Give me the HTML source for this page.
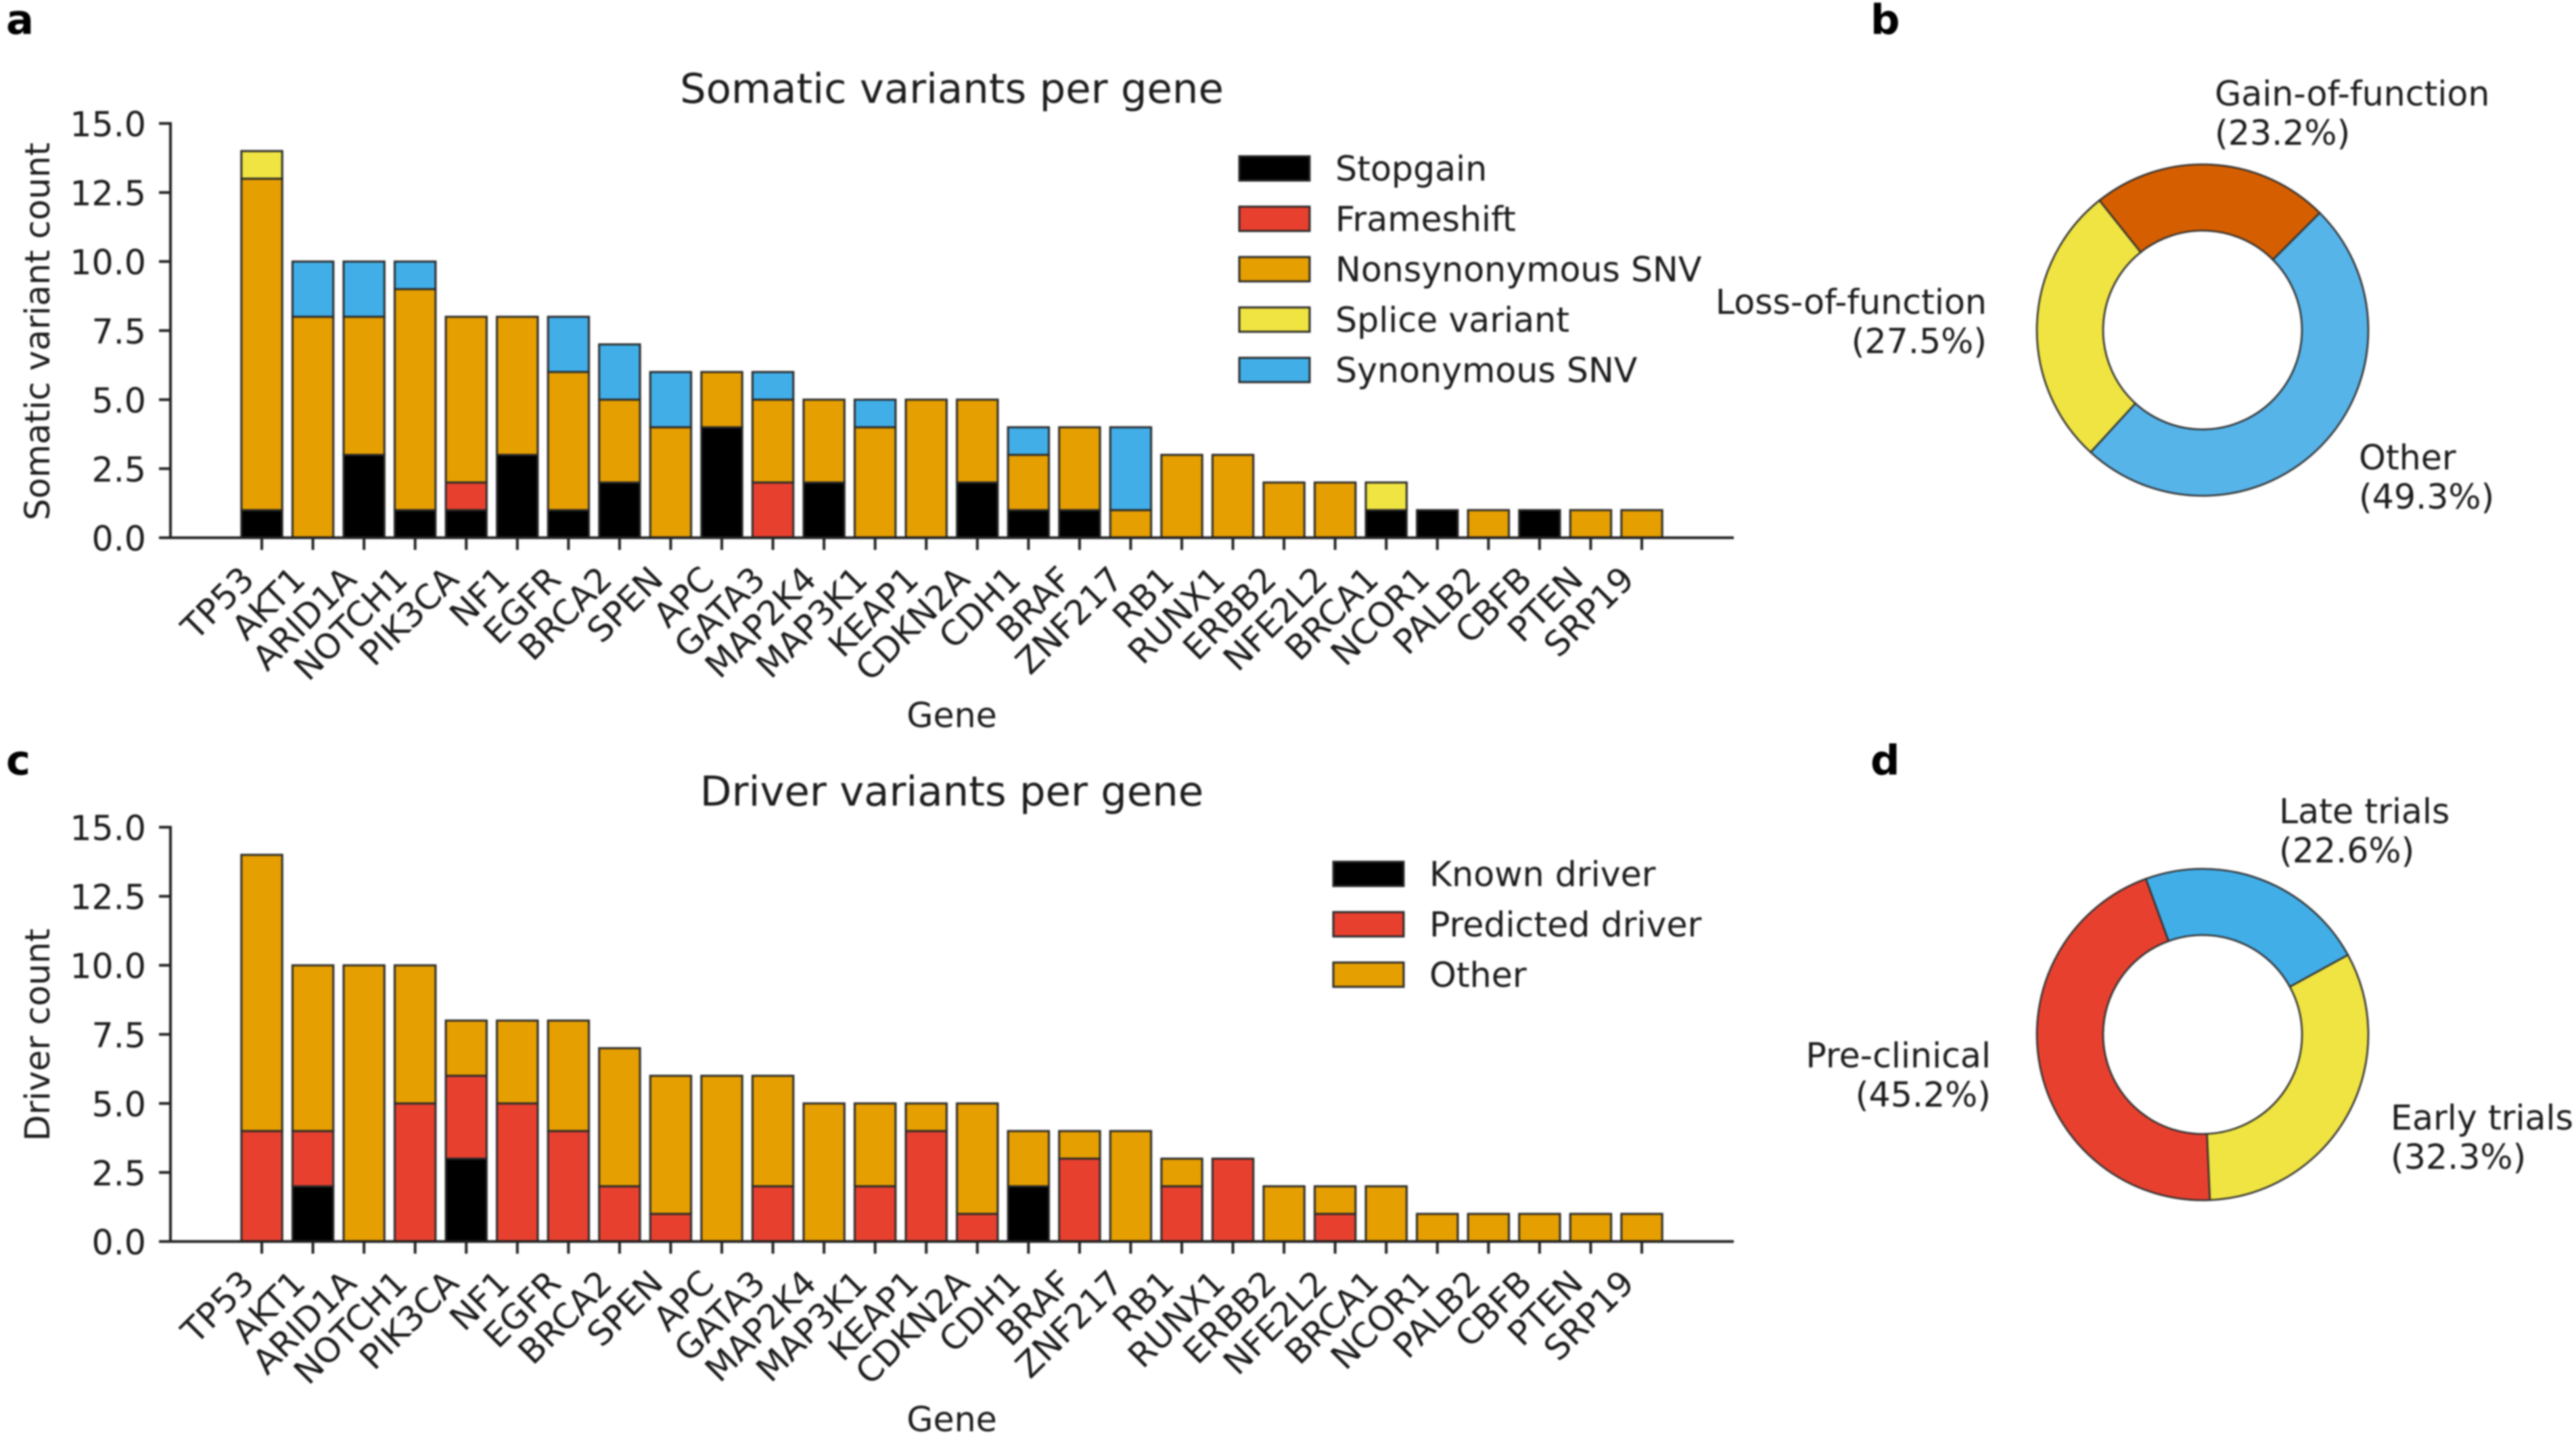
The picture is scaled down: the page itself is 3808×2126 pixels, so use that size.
<!DOCTYPE html>
<html lang="en">
<head>
<meta charset="utf-8">
<title>Somatic and driver variants per gene</title>
<style>
  html, body { margin: 0; padding: 0; background: #fff; }
  #figure { display: block; filter: blur(1.2px); }
  text { font-family: "DejaVu Sans", "Liberation Sans", sans-serif; fill: #1c1c1c; font-size: 50.6px; }
  .panel-letter { font-weight: bold; font-size: 60.8px; fill: #000; }
  .chart-title { font-size: 60.8px; text-anchor: middle; }
  .axis-title { text-anchor: middle; }
</style>
</head>
<body>
<svg id="figure" xmlns="http://www.w3.org/2000/svg" width="3808" height="2126" viewBox="0 0 3808 2126">
  <rect x="0" y="0" width="3808" height="2126" fill="#ffffff"/>

  <text class="panel-letter" x="9" y="50">a</text>
  <text class="panel-letter" x="2765" y="50">b</text>
  <text class="panel-letter" x="9" y="1145">c</text>
  <text class="panel-letter" x="2765" y="1145">d</text>

  <text class="chart-title" x="1407" y="152">Somatic variants per gene</text>
  <text class="axis-title" x="1407" y="1075">Gene</text>
  <text class="axis-title" transform="translate(73 490) rotate(-90)">Somatic variant count</text>

  <text class="chart-title" x="1407" y="1191">Driver variants per gene</text>
  <text class="axis-title" x="1407" y="2116">Gene</text>
  <text class="axis-title" transform="translate(73 1530) rotate(-90)">Driver count</text>

  <g id="somatic-chart"></g>
  <g id="driver-chart"></g>
  <g id="functional-donut"></g>
  <g id="clinical-donut"></g>

  <text x="3274" y="156">Gain-of-function</text>
  <text x="3274" y="214">(23.2%)</text>
  <text x="2937" y="464" text-anchor="end">Loss-of-function</text>
  <text x="2937" y="522" text-anchor="end">(27.5%)</text>
  <text x="3487" y="694">Other</text>
  <text x="3487" y="752">(49.3%)</text>

  <text x="3369" y="1217">Late trials</text>
  <text x="3369" y="1275">(22.6%)</text>
  <text x="2943" y="1578" text-anchor="end">Pre-clinical</text>
  <text x="2943" y="1636" text-anchor="end">(45.2%)</text>
  <text x="3534" y="1670">Early trials</text>
  <text x="3534" y="1728">(32.3%)</text>
</svg>

<script>
// ---- Chart data ----
const genes = ["TP53","AKT1","ARID1A","NOTCH1","PIK3CA","NF1","EGFR","BRCA2","SPEN","APC","GATA3","MAP2K4","MAP3K1","KEAP1","CDKN2A","CDH1","BRAF","ZNF217","RB1","RUNX1","ERBB2","NFE2L2","BRCA1","NCOR1","PALB2","CBFB","PTEN","SRP19"];

const yTickValues = [0, 2.5, 5, 7.5, 10, 12.5, 15];
const yTickLabels = ["0.0", "2.5", "5.0", "7.5", "10.0", "12.5", "15.0"];

const stopgain      = [1,0,3,1,1,3,1,2,0,4,0,2,0,0,2,1,1,0,0,0,0,0,1,1,0,1,0,0];
const frameshift    = [0,0,0,0,1,0,0,0,0,0,2,0,0,0,0,0,0,0,0,0,0,0,0,0,0,0,0,0];
const nonsynonymous = [12,8,5,8,6,5,5,3,4,2,3,3,4,5,3,2,3,1,3,3,2,2,0,0,1,0,1,1];
const spliceVariant = [1,0,0,0,0,0,0,0,0,0,0,0,0,0,0,0,0,0,0,0,0,0,1,0,0,0,0,0];
const synonymous    = [0,2,2,1,0,0,2,2,2,0,1,0,1,0,0,1,0,3,0,0,0,0,0,0,0,0,0,0];

const knownDriver     = [0,2,0,0,3,0,0,0,0,0,0,0,0,0,0,2,0,0,0,0,0,0,0,0,0,0,0,0];
const predictedDriver = [4,2,0,5,3,5,4,2,1,0,2,0,2,4,1,0,3,0,2,3,0,1,0,0,0,0,0,0];
const otherDriver     = [10,6,10,5,2,3,4,5,5,6,4,5,3,1,4,2,1,4,1,0,2,1,2,1,1,1,1,1];

const somaticSeriesNames = ["Stopgain", "Frameshift", "Nonsynonymous SNV", "Splice variant", "Synonymous SNV"];
const driverSeriesNames = ["Known driver", "Predicted driver", "Other"];

const functionalLabels = ["Gain-of-function", "Loss-of-function", "Other"];
const functionalShares = [23.2, 27.5, 49.3];
const clinicalLabels = ["Pre-clinical", "Early trials", "Late trials"];
const clinicalShares = [45.2, 32.3, 22.6];

// ---- Styling and layout ----
const C_BLACK = "#000000", C_RED = "#E8402F", C_ORANGE = "#E69F00", C_YELLOW = "#F0E442", C_BLUE = "#41AEE8", C_VERMILION = "#D55E00", C_SKY = "#56B4E9";
const SVG_NS = "http://www.w3.org/2000/svg";

function make(tag, attrs, parent) {
  const el = document.createElementNS(SVG_NS, tag);
  for (const k in attrs) el.setAttribute(k, attrs[k]);
  parent.appendChild(el);
  return el;
}
function slug(s) {
  return s.toLowerCase().replace(/[^a-z0-9]+/g, "-");
}

function drawBarChart(cfg) {
  const root = document.getElementById(cfg.id);
  const band = (2427 - 387) / (genes.length - 1);
  const xScale = i => 387 + band * i;
  const yScale = v => cfg.y0 + (cfg.y15 - cfg.y0) * v / 15;
  const barW = band * 0.8;

  // stacked bars
  genes.forEach((gene, i) => {
    let base = 0;
    cfg.series.forEach((s, j) => {
      const v = s.values[i];
      if (v > 0) {
        const top = yScale(base + v);
        const bar = make("rect", {
          x: xScale(i) - barW / 2, y: top, width: barW, height: yScale(base) - top,
          fill: s.color, stroke: "#2a2a2a", "stroke-width": 3
        }, root);
        
        
      }
      base += v;
    });
  });

  // y axis
  const ySpine = make("line", { x1: 252, x2: 252, y1: yScale(15) - 2, y2: yScale(0) + 2, stroke: "#222", "stroke-width": 4 }, root);
  
  
  yTickValues.forEach((v, k) => {
    const tick = make("line", { x1: 235, x2: 252, y1: yScale(v), y2: yScale(v), stroke: "#222", "stroke-width": 4 }, root);
    
    
    const label = make("text", { x: 216, y: yScale(v) + 19, "text-anchor": "end" }, root);
    label.textContent = yTickLabels[k];
    
    
  });

  // x axis
  const xSpine = make("line", { x1: 250, x2: 2563, y1: yScale(0), y2: yScale(0), stroke: "#222", "stroke-width": 4 }, root);
  
  
  genes.forEach((gene, i) => {
    const tick = make("line", { x1: xScale(i), x2: xScale(i), y1: yScale(0), y2: yScale(0) + 18, stroke: "#222", "stroke-width": 4 }, root);
    
    
    const lx = xScale(i) - 8.4, ly = yScale(0) + 64.5;
    const label = make("text", { x: 0, y: 0, "text-anchor": "end", transform: "translate(" + lx + " " + ly + ") rotate(-45)" }, root);
    label.textContent = gene;
    
    
  });

  // legend
  cfg.series.forEach((s, j) => {
    const bottom = cfg.legendBottom + j * cfg.legendStep;
    const swatch = make("rect", { x: cfg.legendX, y: bottom - 36, width: 104, height: 36, fill: s.color, stroke: "#2a2a2a", "stroke-width": 3 }, root);
    
    
    const label = make("text", { x: cfg.legendX + 142, y: bottom }, root);
    label.textContent = s.name;
    
    
  });
}

function drawDonut(cfg) {
  const root = document.getElementById(cfg.id);
  const total = cfg.values.reduce((a, b) => a + b, 0);
  let angle = cfg.startAngle;
  const pt = (r, deg) => {
    const t = deg * Math.PI / 180;
    return (cfg.cx + r * Math.cos(t)).toFixed(2) + " " + (cfg.cy - r * Math.sin(t)).toFixed(2);
  };
  cfg.values.forEach((v, i) => {
    const sweep = 360 * v / total;
    const end = angle + sweep;
    const large = sweep > 180 ? 1 : 0;
    const d = "M" + pt(cfg.r, angle) +
      " A" + cfg.r + " " + cfg.r + " 0 " + large + " 0 " + pt(cfg.r, end) +
      " L" + pt(cfg.inner, end) +
      " A" + cfg.inner + " " + cfg.inner + " 0 " + large + " 1 " + pt(cfg.inner, angle) + " Z";
    const slice = make("path", { d: d, fill: cfg.colors[i], stroke: "#2f2f2f", "stroke-width": 2.6, "stroke-linejoin": "miter" }, root);
    
    
    angle = end;
  });
}

// ---- Render ----
drawBarChart({
  id: "somatic-chart", prefix: "somatic", y0: 795, y15: 182.5,
  series: [
    { name: somaticSeriesNames[0], values: stopgain, color: C_BLACK },
    { name: somaticSeriesNames[1], values: frameshift, color: C_RED },
    { name: somaticSeriesNames[2], values: nonsynonymous, color: C_ORANGE },
    { name: somaticSeriesNames[3], values: spliceVariant, color: C_YELLOW },
    { name: somaticSeriesNames[4], values: synonymous, color: C_BLUE }
  ],
  legendX: 1832, legendBottom: 267, legendStep: 74.5
});
drawBarChart({
  id: "driver-chart", prefix: "driver", y0: 1835.5, y15: 1223,
  series: [
    { name: driverSeriesNames[0], values: knownDriver, color: C_BLACK },
    { name: driverSeriesNames[1], values: predictedDriver, color: C_RED },
    { name: driverSeriesNames[2], values: otherDriver, color: C_ORANGE }
  ],
  legendX: 1971, legendBottom: 1310, legendStep: 74.5
});
drawDonut({
  id: "functional-donut", cx: 3256, cy: 488, r: 245, inner: 147, startAngle: 45,
  values: functionalShares, labels: functionalLabels,
  colors: [C_VERMILION, C_YELLOW, C_SKY]
});
drawDonut({
  id: "clinical-donut", cx: 3256, cy: 1529.5, r: 245, inner: 147, startAngle: 110,
  values: clinicalShares, labels: clinicalLabels,
  colors: [C_RED, C_YELLOW, C_BLUE]
});
</script>
</body>
</html>
